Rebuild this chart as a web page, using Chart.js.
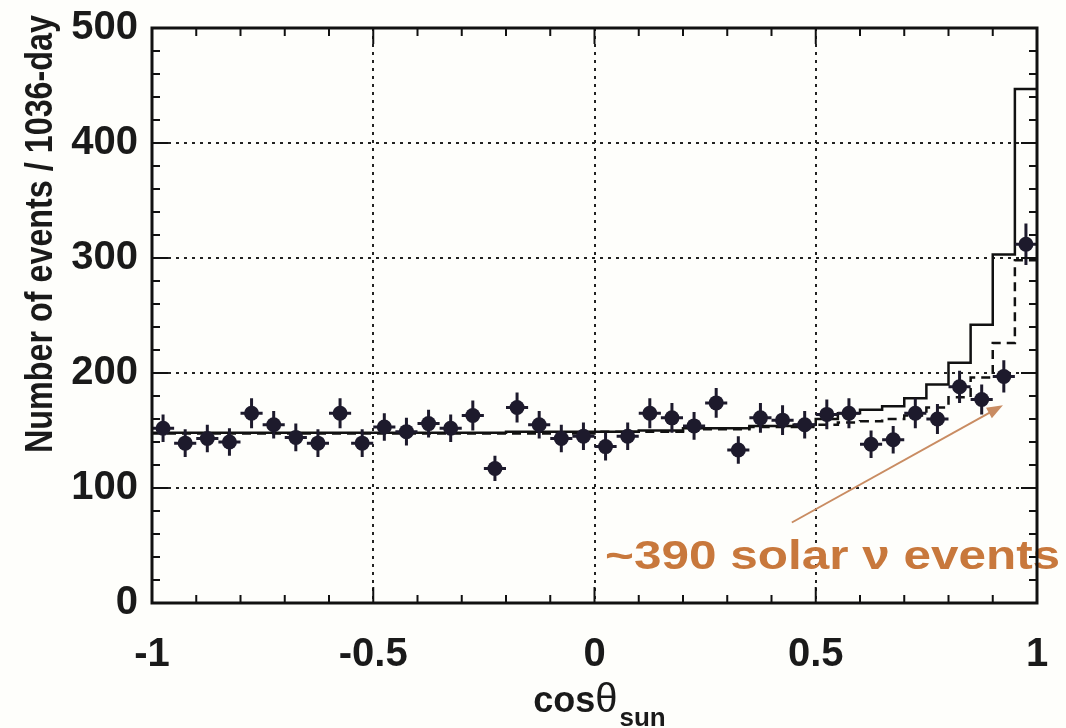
<!DOCTYPE html>
<html>
<head>
<meta charset="utf-8">
<script src="https://cdn.jsdelivr.net/npm/chart.js@4.4.1/dist/chart.umd.min.js"></script>
<style>
  html, body { margin: 0; padding: 0; background: #fefefb; }
  #wrap { width: 1066px; height: 728px; }
</style>
</head>
<body>
<div id="wrap"><canvas id="sunplot" width="1066" height="728"></canvas></div>
<script>
//-----DATA
// bin edges of cos(theta_sun), 40 bins
const binEdges = [-1, -0.95, -0.9, -0.85, -0.8, -0.75, -0.7, -0.65, -0.6, -0.55,
  -0.5, -0.45, -0.4, -0.35, -0.3, -0.25, -0.2, -0.15, -0.1, -0.05,
  0, 0.05, 0.1, 0.15, 0.2, 0.25, 0.3, 0.35, 0.4, 0.45,
  0.5, 0.55, 0.6, 0.65, 0.7, 0.75, 0.8, 0.85, 0.9, 0.95, 1]

// measured events per bin (points)
const dataCounts = [152, 139, 143, 140, 165, 155, 144, 139, 165, 139,
  153, 149, 156, 152, 163, 117, 170, 155, 143, 145,
  136, 145, 165, 161, 154, 174, 133, 161, 159, 155,
  164, 165, 138, 142, 165, 160, 188, 177, 197, 312]

// statistical errors of the points
const dataErrors = [12, 12, 12, 12, 13, 12, 12, 12, 13, 12,
  12, 12, 12, 12, 13, 11, 13, 12, 12, 12,
  12, 12, 13, 13, 12, 13, 12, 13, 13, 12,
  13, 13, 12, 12, 13, 13, 14, 13, 14, 18]

// expected spectrum (solid histogram)
const expectedSolid = [148, 148, 148, 148, 148, 148, 148, 148, 148, 148,
  148, 148, 148, 148, 148, 148, 149, 149, 149, 149,
  149, 149, 150, 150, 152, 152, 152, 154, 154, 155,
  160, 165, 168, 171, 178, 190, 209, 242, 303, 447]

// best fit (dashed histogram)
const bestFitDashed = [147.5, 147.5, 147.5, 147.5, 147.5, 147.5, 147.5, 147.5, 147.5, 147.5,
  147.5, 147.5, 147.5, 147.5, 147.5, 147.5, 147.5, 147.5, 147.5, 147.5,
  149, 149, 149, 149, 151, 151, 151, 153, 153, 153,
  155, 157, 158, 160, 163, 170, 179, 196, 226, 298]

// axis tick labels
const xTickLabels = { '-1': '-1', '-0.5': '-0.5', '0': '0', '0.5': '0.5', '1': '1' }

const BIN_HALF = 0.025
const POINT_COLOR = '#1d1a2c'
const NOTE_COLOR = '#c8783c'

//-----Datasets
const centers = dataCounts.map((v, i) => (binEdges[i] + binEdges[i + 1]) / 2)
const pointData = dataCounts.map((v, i) => ({ x: centers[i], y: v }))
const histo = vals => binEdges.map((e, i) => ({ x: e, y: vals[Math.min(i, vals.length - 1)] }))

//-----Decorations: error bars, frame, inward ticks, titles, note
const decor = {
  id: 'decor',
  beforeDatasetDraw(chart, args) {
    if (args.index !== 0) return
    const { ctx, scales: { x, y } } = chart
    ctx.save()
    ctx.strokeStyle = POINT_COLOR
    ctx.lineWidth = 3
    dataCounts.forEach((v, i) => {
      const px = x.getPixelForValue(centers[i])
      const py = y.getPixelForValue(v)
      ctx.beginPath()
      ctx.moveTo(px, y.getPixelForValue(v - dataErrors[i]))
      ctx.lineTo(px, y.getPixelForValue(v + dataErrors[i]))
      ctx.moveTo(x.getPixelForValue(centers[i] - BIN_HALF), py)
      ctx.lineTo(x.getPixelForValue(centers[i] + BIN_HALF), py)
      ctx.stroke()
    })
    ctx.restore()
  },
  afterDraw(chart) {
    const { ctx, chartArea: a, scales: { x, y } } = chart
    ctx.save()

    // note + arrow
    const x0 = x.getPixelForValue(0.446), y0 = y.getPixelForValue(70)
    const x1 = x.getPixelForValue(0.923), y1 = y.getPixelForValue(172)
    const ang = Math.atan2(y1 - y0, x1 - x0)
    ctx.strokeStyle = '#c98c62'
    ctx.fillStyle = '#c98c62'
    ctx.lineWidth = 2
    ctx.beginPath()
    ctx.moveTo(x0, y0)
    ctx.lineTo(x1 - 10 * Math.cos(ang), y1 - 10 * Math.sin(ang))
    ctx.stroke()
    ctx.beginPath()
    ctx.moveTo(x1, y1)
    ctx.lineTo(x1 - 16 * Math.cos(ang) + 6 * Math.sin(ang), y1 - 16 * Math.sin(ang) - 6 * Math.cos(ang))
    ctx.lineTo(x1 - 16 * Math.cos(ang) - 6 * Math.sin(ang), y1 - 16 * Math.sin(ang) + 6 * Math.cos(ang))
    ctx.closePath()
    ctx.fill()

    const note = '~390 solar ν events'
    ctx.font = 'bold 40px "Liberation Sans", Arial, sans-serif'
    ctx.fillStyle = NOTE_COLOR
    ctx.textBaseline = 'alphabetic'
    ctx.textAlign = 'left'
    const nw = ctx.measureText(note).width
    ctx.save()
    ctx.translate(x.getPixelForValue(0.024), y.getPixelForValue(30))
    ctx.scale(455 / nw, 1)
    ctx.fillText(note, 0, 0)
    ctx.restore()

    // frame
    ctx.strokeStyle = '#111'
    ctx.lineWidth = 3
    ctx.strokeRect(a.left, a.top, a.right - a.left, a.bottom - a.top)

    // inward ticks
    ctx.lineWidth = 2
    ctx.beginPath()
    for (let k = 0; k <= 20; k++) {
      const v = -1 + k * 0.1
      const len = k % 5 === 0 ? 16 : 8
      const px = x.getPixelForValue(v)
      ctx.moveTo(px, a.bottom); ctx.lineTo(px, a.bottom - len)
      ctx.moveTo(px, a.top); ctx.lineTo(px, a.top + len)
    }
    for (let k = 0; k <= 25; k++) {
      const v = k * 20
      const len = k % 5 === 0 ? 16 : 8
      const py = y.getPixelForValue(v)
      ctx.moveTo(a.left, py); ctx.lineTo(a.left + len, py)
      ctx.moveTo(a.right, py); ctx.lineTo(a.right - len, py)
    }
    ctx.stroke()

    // y title
    ctx.fillStyle = '#1a1a1a'
    ctx.font = 'bold 38px "Liberation Sans", Arial, sans-serif'
    const yt = 'Number of events / 1036-day'
    const yw = ctx.measureText(yt).width
    ctx.save()
    ctx.translate(42, 234)
    ctx.rotate(-Math.PI / 2)
    ctx.scale(438 / yw, 1)
    ctx.textAlign = 'center'
    ctx.textBaseline = 'middle'
    ctx.fillText(yt, 0, 0)
    ctx.restore()

    // x title: cos theta_sun
    const f1 = 'bold 36px "Liberation Sans", Arial, sans-serif'
    const f2 = '40px "Liberation Sans", Arial, sans-serif'
    const f3 = 'bold 26px "Liberation Sans", Arial, sans-serif'
    ctx.textAlign = 'left'
    ctx.textBaseline = 'alphabetic'
    ctx.font = f1; const w1 = ctx.measureText('cos').width
    ctx.font = f2; const w2 = ctx.measureText('θ').width
    ctx.font = f3; const w3 = ctx.measureText('sun').width
    let tx = x.getPixelForValue(0) + 4 - (w1 + w2 + w3) / 2
    ctx.font = f1; ctx.fillText('cos', tx, 712); tx += w1
    ctx.font = f2; ctx.fillText('θ', tx, 712); tx += w2 + 2
    ctx.font = f3; ctx.fillText('sun', tx, 726)

    ctx.restore()
  }
}

//-----Chart
const gridColor = c => (c.tick && (c.tick.value === c.scale.min || c.tick.value === c.scale.max)) ? 'rgba(0,0,0,0)' : '#222'
const tickFont = { family: '"Liberation Sans", Arial, sans-serif', size: 40, weight: 'bold' }

const config = {
  type: 'scatter',
  data: {
    datasets: [{
      label: 'Data',
      data: pointData,
      pointRadius: 7.5,
      pointHoverRadius: 7.5,
      backgroundColor: POINT_COLOR,
      borderWidth: 0,
      order: 0
    }, {
      type: 'line',
      label: 'Expected',
      data: histo(expectedSolid),
      stepped: true,
      borderColor: '#111',
      borderWidth: 2.5,
      pointRadius: 0,
      fill: false,
      order: 2
    }, {
      type: 'line',
      label: 'Best fit',
      data: histo(bestFitDashed),
      stepped: true,
      borderColor: '#111',
      borderWidth: 2.5,
      borderDash: [9, 6],
      pointRadius: 0,
      fill: false,
      order: 1
    }]
  },
  options: {
    responsive: false,
    devicePixelRatio: 1,
    animation: false,
    layout: { padding: { top: 28, right: 29, left: 0, bottom: 0 } },
    plugins: { legend: { display: false }, tooltip: { enabled: false } },
    scales: {
      x: {
        type: 'linear',
        min: -1,
        max: 1,
        afterFit: s => { s.height = 125; s.paddingLeft = 0; s.paddingRight = 0 },
        ticks: {
          stepSize: 0.5,
          padding: 28,
          color: '#1a1a1a',
          font: tickFont,
          callback: v => xTickLabels[String(v)] ?? String(v)
        },
        grid: { color: gridColor, lineWidth: 2, drawTicks: false },
        border: { display: false, dash: [3, 5] }
      },
      y: {
        min: 0,
        max: 500,
        afterFit: s => { s.width = 152; s.paddingTop = 0; s.paddingBottom = 0 },
        ticks: {
          stepSize: 100,
          padding: 14,
          color: '#1a1a1a',
          font: tickFont
        },
        grid: { color: gridColor, lineWidth: 2, drawTicks: false },
        border: { display: false, dash: [3, 5] }
      }
    }
  },
  plugins: [decor]
}

const graph = new Chart(document.getElementById('sunplot'), config)
</script>
</body>
</html>
